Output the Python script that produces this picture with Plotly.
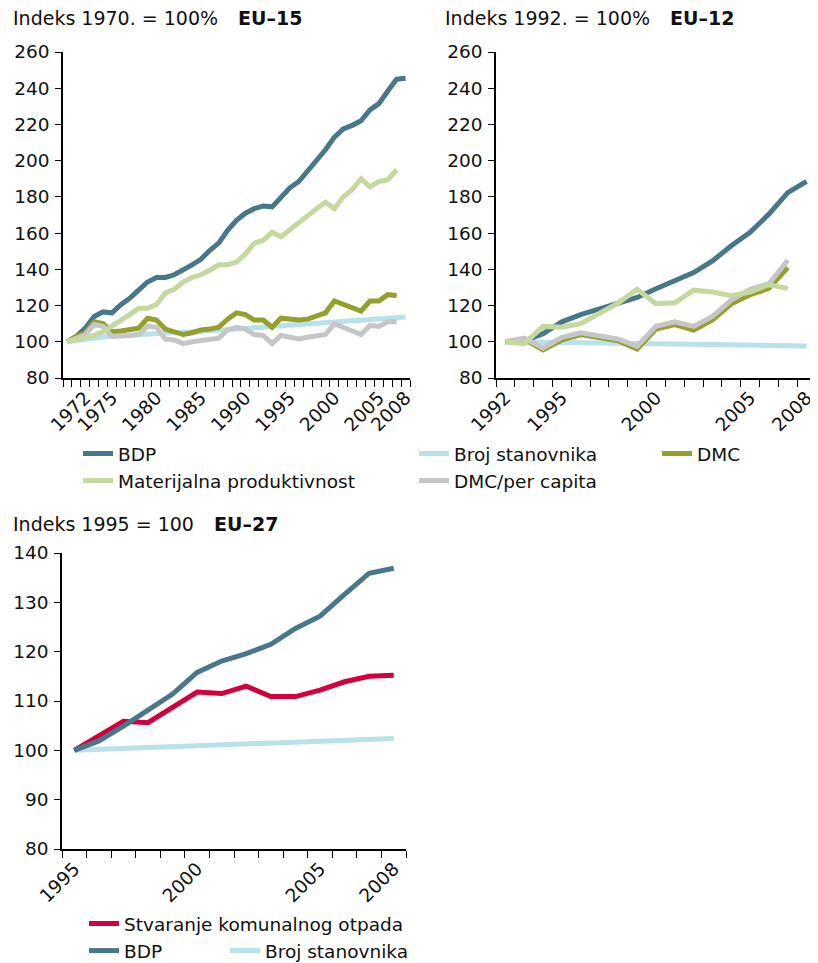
import plotly.graph_objects as go

# ---------------- data ----------------
years_eu15 = list(range(1970, 2009))          # 1970..2008
years_eu15_mat = list(range(1970, 2008))      # material series end 2007
bdp_eu15 = [100, 103, 107.5, 114, 116.5, 116, 120.5, 124, 128.5, 133,
            135.5, 135.5, 137, 139.5, 142.5, 145.5, 150.5, 154.5, 161.5, 167,
            171, 173.5, 175, 174.5, 180, 185, 188.5, 194, 200, 206,
            213, 217.5, 219.5, 222, 228, 231.5, 238.5, 245, 245.5]
pop_eu15 = [100, 100.8, 101.5, 102.1, 102.6, 103.0, 103.4, 103.7, 104.0, 104.3,
            104.6, 104.9, 105.1, 105.3, 105.5, 105.7, 106.0, 106.3, 106.6, 107.0,
            107.4, 107.8, 108.2, 108.6, 109.0, 109.3, 109.6, 109.9, 110.2, 110.6,
            111.0, 111.3, 111.6, 111.9, 112.3, 112.6, 112.9, 113.3, 113.7]
dmc_eu15 = [100, 103, 105, 111, 110, 105.5, 106, 107, 107.5, 113,
            112, 107, 105.5, 104, 105, 106.5, 107, 108, 112.5, 116,
            115, 112, 112, 108, 113, 112.5, 112, 112.5, 114, 116,
            122.5, 120.5, 119, 117, 122.5, 122.5, 126, 125.5]
matprod_eu15 = [100, 101, 102.5, 103.5, 105.5, 108.5, 112, 115, 118.5, 118.5,
                120.5, 127, 129, 133, 135.5, 137, 139.5, 142.5, 142.5, 144,
                148.5, 154.5, 156, 160.5, 158, 162, 166, 170, 173.5, 177,
                173.5, 180, 184, 190, 185.5, 188.5, 189.5, 195]
dmcpc_eu15 = [100, 102, 104, 109.5, 108.5, 103, 103, 103.5, 104, 108.5,
              108, 101.5, 101, 99, 100, 100.5, 101.5, 102, 106.5, 108,
              107, 104, 103.5, 99, 103.5, 102.5, 101.5, 102.5, 103.5, 104,
              110, 108, 106.5, 104, 109, 108.5, 111, 111]

years_eu12 = list(range(1992, 2009))
years_eu12_mat = list(range(1992, 2008))
bdp_eu12 = [100, 100.5, 104.5, 111, 115, 118, 121.3, 124.5, 129.3, 133.7,
            138.2, 144.6, 153, 160.5, 170.5, 182.3, 188.6]
pop_eu12 = [100, 99.9, 99.7, 99.5, 99.3, 99.2, 99.1, 99.0, 98.9, 98.8,
            98.6, 98.4, 98.3, 98.1, 98.0, 97.8, 97.7]
dmc_eu12 = [100, 101.5, 95.5, 101, 104, 102.5, 100.5, 96, 107, 109.5,
            106.5, 112, 121, 126, 129.5, 141]
matprod_eu12 = [100, 99, 108.5, 108, 110, 115.5, 121.5, 129, 121, 121.5,
                128.5, 127.5, 125.5, 127.5, 131.5, 129.5]
dmcpc_eu12 = [100, 102, 96.5, 102.5, 105, 103.5, 101.5, 97.5, 108.5, 111,
              108.5, 114, 123, 129, 132, 145]

years_eu27 = list(range(1995, 2009))
waste_eu27 = [100, 102.9, 105.9, 105.6, 108.7, 111.8, 111.5, 113, 110.9, 110.9,
              112.2, 113.9, 115, 115.2]
bdp_eu27 = [100, 101.9, 104.9, 108.3, 111.4, 115.8, 118.1, 119.6, 121.5, 124.7,
            127.2, 131.6, 135.9, 136.9]
pop_eu27 = [100, 100.2, 100.4, 100.5, 100.7, 100.9, 101.0, 101.2, 101.4, 101.6,
            101.8, 102.0, 102.2, 102.4]

ticks_eu15 = [1972, 1975, 1980, 1985, 1990, 1995, 2000, 2005, 2008]
ticks_eu12 = [1992, 1995, 2000, 2005, 2008]
ticks_eu27 = [1995, 2000, 2005, 2008]

# ---------------- style ----------------
C_BDP = "#477789"
C_POP = "#b9e1e9"
C_DMC = "#949f2c"
C_MAT = "#c5d89d"
C_DMCPC = "#c6c6c8"
C_WASTE = "#d2003c"
LW = 5
FONT = "Verdana, DejaVu Sans, sans-serif"
FS = 18.5
FS_TITLE = 19
# the page body has an 8px margin: the figure is sized to fill the rest of the window
OFF = 8
W, H = 818 - OFF, 963 - OFF

fig = go.Figure()

def add(x, y, name, color, xa, ya, show, legend=None):
    fig.add_trace(go.Scatter(
        x=x, y=y, name=name, mode="lines",
        line=dict(color=color, width=LW),
        xaxis=xa, yaxis=ya, showlegend=show,
        legend=legend if legend else "legend",
        hoverinfo="x+y+name"))

# EU-15
add(years_eu15, pop_eu15, "Broj stanovnika", C_POP, "x", "y", True, "legend2")
add(years_eu15, bdp_eu15, "BDP", C_BDP, "x", "y", True, "legend")
add(years_eu15_mat, dmc_eu15, "DMC", C_DMC, "x", "y", True, "legend3")
add(years_eu15_mat, dmcpc_eu15, "DMC/per capita", C_DMCPC, "x", "y", True, "legend2")
add(years_eu15_mat, matprod_eu15, "Materijalna produktivnost", C_MAT, "x", "y", True, "legend")

# EU-12
add(years_eu12, pop_eu12, "Broj stanovnika", C_POP, "x2", "y2", False)
add(years_eu12, bdp_eu12, "BDP", C_BDP, "x2", "y2", False)
add(years_eu12_mat, dmc_eu12, "DMC", C_DMC, "x2", "y2", False)
add(years_eu12_mat, dmcpc_eu12, "DMC/per capita", C_DMCPC, "x2", "y2", False)
add(years_eu12_mat, matprod_eu12, "Materijalna produktivnost", C_MAT, "x2", "y2", False)

# EU-27
add(years_eu27, pop_eu27, "Broj stanovnika", C_POP, "x3", "y3", True, "legend5")
add(years_eu27, waste_eu27, "Stvaranje komunalnog otpada", C_WASTE, "x3", "y3", True, "legend4")
add(years_eu27, bdp_eu27, "BDP", C_BDP, "x3", "y3", True, "legend4")


def px_x(p):
    return (p - OFF) / W


def px_y(p):
    return 1 - (p - OFF) / H


def xaxis_def(x0, x1, years, ticks):
    bounds = [y - 0.5 for y in years] + [years[-1] + 0.5]
    return dict(
        domain=[px_x(x0), px_x(x1)],
        range=[years[0] - 0.5, years[-1] + 0.5],
        tickmode="array", tickvals=ticks, ticktext=[str(t) for t in ticks],
        tickangle=-45, ticks="outside", ticklen=0,
        showline=True, linecolor="black", linewidth=1.5,
        showgrid=False, zeroline=False, automargin=False,
        tickfont=dict(family=FONT, size=FS, color="#111"),
        minor=dict(ticks="outside", ticklen=7, tickwidth=1.3, tickcolor="black",
                   tickmode="array", tickvals=bounds, showgrid=False),
        fixedrange=True,
    )


def yaxis_def(y_top, y_bot, rng, dtick, anchor):
    return dict(
        domain=[px_y(y_bot), px_y(y_top)],
        range=rng, dtick=dtick, tick0=rng[0],
        ticks="outside", ticklen=6, tickwidth=1.3, tickcolor="black",
        showline=True, linecolor="black", linewidth=1.5,
        showgrid=False, zeroline=False, anchor=anchor, automargin=False,
        tickfont=dict(family=FONT, size=FS, color="#111"),
        ticklabelstandoff=2,
        fixedrange=True,
    )


xa1 = xaxis_def(63, 410, years_eu15, ticks_eu15); xa1["anchor"] = "y"
xa2 = xaxis_def(496, 816, years_eu12, ticks_eu12); xa2["anchor"] = "y2"
xa3 = xaxis_def(62, 406, years_eu27, ticks_eu27); xa3["anchor"] = "y3"

ya1 = yaxis_def(52, 378, [80, 260], 20, "x")
ya2 = yaxis_def(52, 378, [80, 260], 20, "x2")
ya3 = yaxis_def(553, 849, [80, 140], 10, "x3")


def legend_def(xp, yp):
    return dict(
        x=px_x(xp), y=px_y(yp), xanchor="left", yanchor="top",
        orientation="v", bgcolor="rgba(0,0,0,0)", borderwidth=0,
        font=dict(family=FONT, size=FS, color="#111"),
        tracegroupgap=0, itemclick=False, itemdoubleclick=False,
    )


annotations = []
def title(x, y, text, bold=False):
    annotations.append(dict(
        xref="paper", yref="paper", x=px_x(x), y=px_y(y),
        xanchor="left", yanchor="middle", showarrow=False,
        text=f"<b>{text}</b>" if bold else text,
        font=dict(family=FONT, size=FS_TITLE, color="#111")))

title(11, 18, "Indeks 1970. = 100%")
title(236, 18, "EU–15", True)
title(443, 18, "Indeks 1992. = 100%")
title(668, 18, "EU–12", True)
title(11, 524, "Indeks 1995 = 100")
title(212, 524, "EU–27", True)

fig.update_layout(
    width=W, height=H,
    margin=dict(l=0, r=0, t=0, b=0, pad=0, autoexpand=False),
    paper_bgcolor="white", plot_bgcolor="white",
    font=dict(family=FONT, size=FS, color="#111"),
    xaxis=xa1, yaxis=ya1, xaxis2=xa2, yaxis2=ya2, xaxis3=xa3, yaxis3=ya3,
    legend=legend_def(78, 435),
    legend2=legend_def(414, 435),
    legend3=legend_def(657, 435),
    legend4=legend_def(84, 905),
    legend5=legend_def(225, 932),
    annotations=annotations,
    showlegend=True,
)

fig.write_html("out.html")
